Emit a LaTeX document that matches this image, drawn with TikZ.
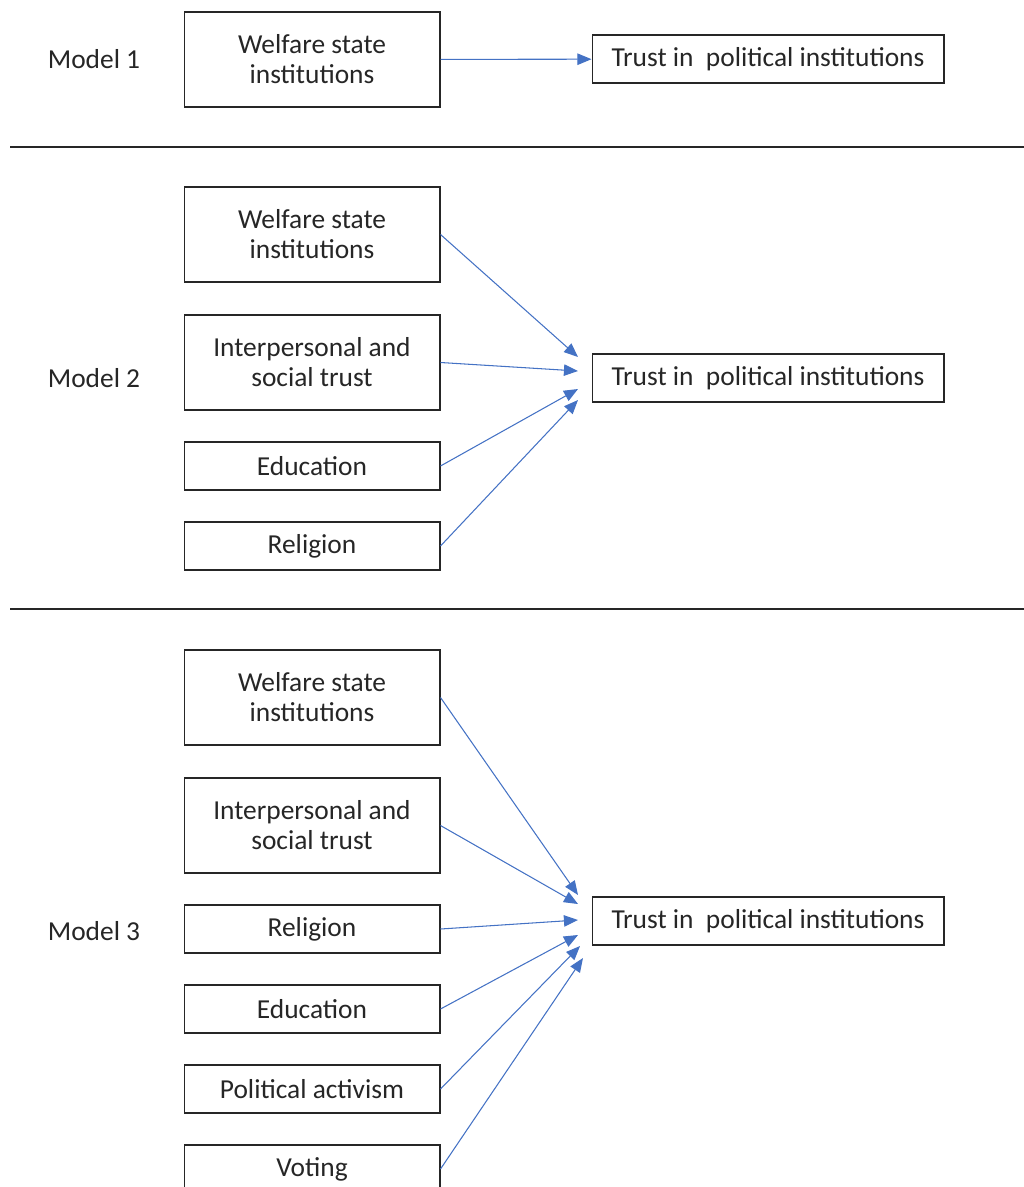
\documentclass[tikz,border=0pt]{standalone}
\usepackage{fontspec}
\setmainfont{Carlito}
\usetikzlibrary{arrows.meta}
\definecolor{arrowblue}{HTML}{4472C4}
\definecolor{inkgrey}{HTML}{262626}

\begin{document}
\begin{tikzpicture}[x=0.02cm,y=-0.02cm]
\tikzstyle{box}=[draw=inkgrey,text=inkgrey,line width=0.6pt,minimum width=5.12cm,minimum height=0.96cm,align=center,font=\fontsize{15.6}{17}\selectfont,inner sep=0pt];
\tikzstyle{tall}=[minimum height=1.9cm];
\tikzstyle{trust}=[draw=inkgrey,text=inkgrey,line width=0.6pt,minimum width=7.04cm,minimum height=0.96cm,font=\fontsize{15.6}{17}\selectfont,inner sep=0pt];
\tikzstyle{model}=[text=inkgrey,font=\fontsize{15.6}{17}\selectfont];
\tikzstyle{path}=[-{Triangle[length=8pt,width=6.5pt]},arrowblue,line width=0.6pt];
\tikzstyle{sep}=[draw=inkgrey,line width=0.6pt];
\useasboundingbox (0,0) rectangle (1024,1187);
\clip (0,0) rectangle (1024,1187);

% Model 1
\node [model] (m1) at (94,59) {Model 1};
\node [box,tall] (welfare1) at (312,59.5) {Welfare state\\institutions};
\node [trust] (trust1) at (768,59) {Trust in~ political institutions};
\draw [path] (welfare1) -- (trust1);

\coordinate (s1a) at (10,147);
\coordinate (s1b) at (1024,147);
\draw [sep] (s1a) -- (s1b);

% Model 2
\node [model] (m2) at (94,378) {Model 2};
\node [box,tall] (welfare2) at (312,234.5) {Welfare state\\institutions};
\node [box,tall] (inter2) at (312,362.5) {Interpersonal and\\social trust};
\node [box] (edu2) at (312,466) {Education};
\node [box] (rel2) at (312,546) {Religion};
\node [trust] (trust2) at (768,378) {Trust in~ political institutions};
\coordinate (e2a) at (578,357);
\coordinate (e2b) at (578,371);
\coordinate (e2c) at (578,389);
\coordinate (e2d) at (578,400);
\draw [path] (welfare2.east) -- (e2a);
\draw [path] (inter2.east) -- (e2b);
\draw [path] (edu2.east) -- (e2c);
\draw [path] (rel2.east) -- (e2d);

\coordinate (s2a) at (10,609);
\coordinate (s2b) at (1024,609);
\draw [sep] (s2a) -- (s2b);

% Model 3
\node [model] (m3) at (94,931) {Model 3};
\node [box,tall] (welfare3) at (312,697.5) {Welfare state\\institutions};
\node [box,tall] (inter3) at (312,825.5) {Interpersonal and\\social trust};
\node [box] (rel3) at (312,929) {Religion};
\node [box] (edu3) at (312,1009) {Education};
\node [box] (act3) at (312,1089) {Political activism};
\node [box] (vote3) at (312,1169) {Voting};
\node [trust] (trust3) at (768,921) {Trust in~ political institutions};
\coordinate (e3a) at (578,895);
\coordinate (e3b) at (578,904);
\coordinate (e3c) at (578,920);
\coordinate (e3d) at (578,935);
\coordinate (e3e) at (580,946);
\coordinate (e3f) at (583,958);
\draw [path] (welfare3.east) -- (e3a);
\draw [path] (inter3.east) -- (e3b);
\draw [path] (rel3.east) -- (e3c);
\draw [path] (edu3.east) -- (e3d);
\draw [path] (act3.east) -- (e3e);
\draw [path] (vote3.east) -- (e3f);
\end{tikzpicture}
\end{document}
